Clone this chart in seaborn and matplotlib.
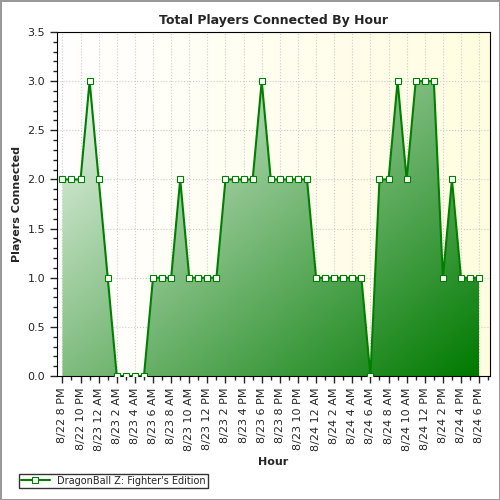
import numpy as np
import matplotlib
matplotlib.use('Agg')
import matplotlib.pyplot as plt
import seaborn as sns
from matplotlib.colors import LinearSegmentedColormap
from matplotlib.ticker import MultipleLocator

sns.set_style('white')
plt.rcParams['font.family'] = ['DejaVu Sans']

# hourly values from 8/22 8 PM to 8/24 6 PM
players = [2, 2, 2, 3, 2, 1, 0, 0, 0, 0, 1, 1, 1, 2, 1, 1, 1, 1, 2, 2, 2, 2, 3, 2,
           2, 2, 2, 2, 1, 1, 1, 1, 1, 1, 0, 2, 2, 3, 2, 3, 3, 3, 1, 2, 1, 1, 1]
tick_labels = ['8/22 8 PM', '8/22 10 PM', '8/23 12 AM', '8/23 2 AM', '8/23 4 AM', '8/23 6 AM',
               '8/23 8 AM', '8/23 10 AM', '8/23 12 PM', '8/23 2 PM', '8/23 4 PM', '8/23 6 PM',
               '8/23 8 PM', '8/23 10 PM', '8/24 12 AM', '8/24 2 AM', '8/24 4 AM', '8/24 6 AM',
               '8/24 8 AM', '8/24 10 AM', '8/24 12 PM', '8/24 2 PM', '8/24 4 PM', '8/24 6 PM']

x = np.arange(len(players))
xmin, xmax = -0.6, len(players) - 1 + 1.2

fig = plt.figure(figsize=(5, 5), dpi=100)
fig.patch.set_edgecolor('#999999')
fig.patch.set_linewidth(1)
ax = fig.add_axes([0.114, 0.248, 0.866, 0.688])

# background gradient
bg = LinearSegmentedColormap.from_list('bg', ['#ffffff', '#fffde0'])
ax.imshow(np.linspace(0, 1, 100).reshape(1, -1), cmap=bg, aspect='auto',
          extent=[xmin, xmax, 0, 3.5], zorder=0)

# gradient area fill: light top-left, dark bottom-right
gr = LinearSegmentedColormap.from_list('gr', ['#ffffff', '#007a00'])
gx, gy = np.meshgrid(np.linspace(0, 1, 200), np.linspace(0, 1, 200))
grad = (gx + gy) / 2
poly = ax.fill_between(x, players, 0, color='none')
im = ax.imshow(grad, cmap=gr, aspect='auto', extent=[x[0], x[-1], 0, 3.5],
               origin='upper', zorder=1)
im.set_clip_path(poly.get_paths()[0], transform=ax.transData)

sns.lineplot(x=x, y=players, ax=ax, color='#008000', lw=1.5, marker='s', markersize=4.5,
             markerfacecolor='white', markeredgecolor='#008000', markeredgewidth=0.8,
             zorder=3, label='DragonBall Z: Fighter\'s Edition')

ax.set_xlim(xmin, xmax)
ax.set_ylim(0, 3.5)
ax.set_xticks(x[::2])
ax.set_xticklabels(tick_labels, rotation=90, fontsize=8)
ax.xaxis.set_minor_locator(MultipleLocator(1))
ax.set_yticks(np.arange(0, 3.51, 0.5))
ax.set_yticklabels([f'{v:.1f}' for v in np.arange(0, 3.51, 0.5)], fontsize=8)
ax.yaxis.set_minor_locator(MultipleLocator(0.1))
ax.tick_params(which='both', direction='out', bottom=True, left=True, length=5, width=1)
ax.tick_params(which='minor', length=3)
ax.grid(True, which='major', linestyle=':', color='#cccccc', lw=0.8)
for s in ax.spines.values():
    s.set_color('black')
ax.set_title('Total Players Connected By Hour', fontsize=9, fontweight='bold')
ax.set_xlabel('Hour', fontsize=8, fontweight='bold')
ax.set_ylabel('Players Connected', fontsize=8, fontweight='bold')
ax.legend(loc='upper left', bbox_to_anchor=(-0.1, -0.27), fontsize=7, frameon=True,
          fancybox=False, edgecolor='black', borderpad=0.2, handlelength=3)

fig.savefig('out.png', dpi=100, edgecolor=fig.get_edgecolor())
